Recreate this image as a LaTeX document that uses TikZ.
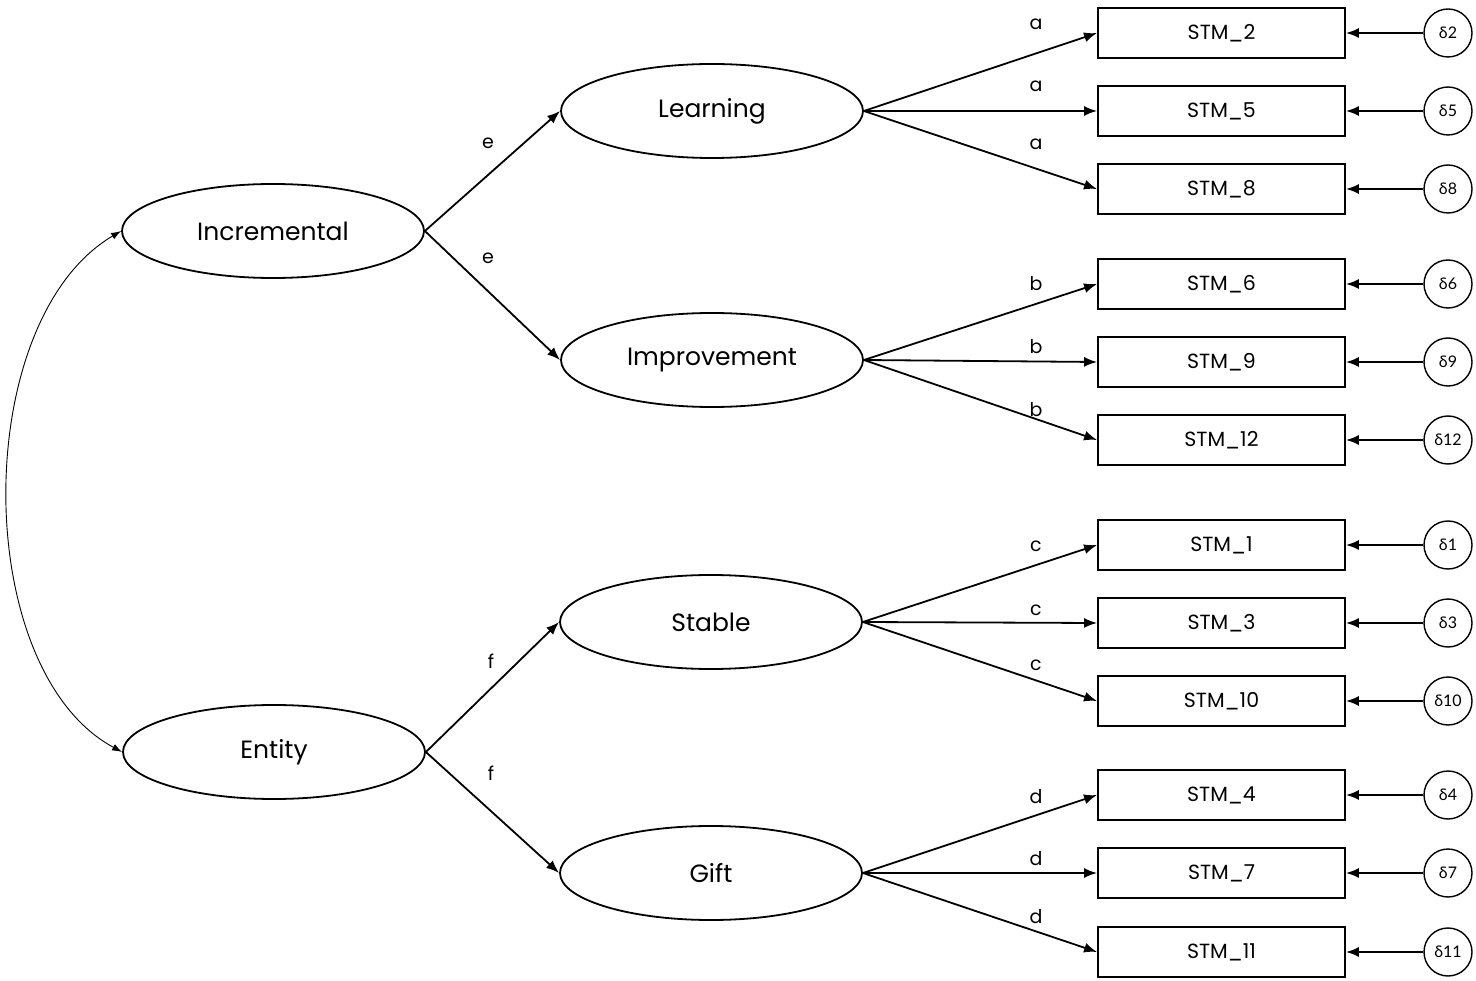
\documentclass[tikz,border=0pt]{standalone}
\usepackage{fontspec}
\setmainfont{Poppins}
\newfontfamily\deltafont{Lato}
\usetikzlibrary{arrows.meta,shapes.geometric}
\begin{document}
\begin{tikzpicture}[x=1pt,y=-1pt,
  latent/.style={draw,line width=1.8pt,ellipse,minimum width=302pt,minimum height=94pt,inner sep=0pt,font=\fontsize{25}{28}\selectfont},
  obs/.style={draw,line width=1.8pt,rectangle,minimum width=247pt,minimum height=50pt,inner sep=0pt,font=\fontsize{20.5}{23}\selectfont},
  err/.style={draw,line width=1.4pt,circle,minimum size=48pt,inner sep=0pt,font=\deltafont\fontsize{16}{18}\selectfont},
  pth/.style={line width=1.8pt,-{Latex[length=13pt,width=10pt]}},
  lbl/.style={font=\fontsize{19}{21}\selectfont,inner sep=0pt},
]
\useasboundingbox (0,0) rectangle (1476,981);
% latent factors
\node[latent] (inc) at (273,231) {Incremental};
\node[latent] (ent) at (274,752) {Entity};
\node[latent] (lea) at (712,111) {Learning};
\node[latent] (imp) at (712,360) {Improvement};
\node[latent] (sta) at (711,622) {Stable};
\node[latent] (gif) at (711,873) {Gift};
% observed
\foreach \n/\y/\d in {2/33/2,5/111/5,8/189/8,6/284/6,9/362/9,12/440/12,1/545/1,3/623/3,10/701/10,4/795/4,7/873/7,11/952/11}{
  \node[obs] (s\n) at (1221.5,\y) {STM\_\n};
  \node[err] (d\n) at (1448,\y) {δ\d};
  \draw[pth] (d\n) -- (s\n);
}
% higher-order paths
\draw[pth] (inc.east) -- (lea.west);
\draw[pth] (inc.east) -- (imp.west);
\draw[pth] (ent.east) -- (sta.west);
\draw[pth] (ent.east) -- (gif.west);
\node[lbl] (le1) at (488,143) {e};
\node[lbl] (le2) at (488,258) {e};
\node[lbl] (lf1) at (491,661) {f};
\node[lbl] (lf2) at (491,773) {f};
% loadings
\draw[pth] (lea.east) -- (s2.west);
\draw[pth] (lea.east) -- (s5.west);
\draw[pth] (lea.east) -- (s8.west);
\draw[pth] (imp.east) -- (s6.west);
\draw[pth] (imp.east) -- (s9.west);
\draw[pth] (imp.east) -- (s12.west);
\draw[pth] (sta.east) -- (s1.west);
\draw[pth] (sta.east) -- (s3.west);
\draw[pth] (sta.east) -- (s10.west);
\draw[pth] (gif.east) -- (s4.west);
\draw[pth] (gif.east) -- (s7.west);
\draw[pth] (gif.east) -- (s11.west);
\foreach \t/\y in {a/24,a/86,a/144,b/284,b/347,b/410,c/546,c/610,c/665,d/797,d/859,d/917}{
  \node[lbl] at (1036,\y) {\t};
}
% covariance
\draw[line width=0.9pt,{Latex[length=10pt,width=7pt]}-{Latex[length=10pt,width=7pt]}] (inc.west) .. controls (-30,320) and (-30,670) .. (ent.west);
\end{tikzpicture}
\end{document}
